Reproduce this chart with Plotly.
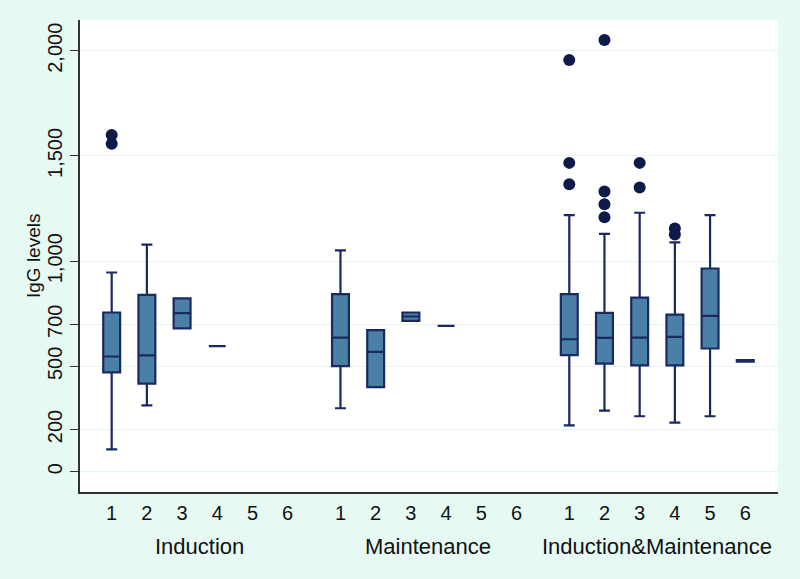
import plotly.graph_objects as go

# ---- data ----
groups = ["Induction", "Maintenance", "Induction&Maintenance"]
cat_labels = ["1", "2", "3", "4", "5", "6"]

# per group, per category (None = no data)
q1 = [
    [471, 418, 681, 596, None, None],
    [501, 401, 716, 692, None, None],
    [553, 513, 505, 505, 585, 522],
]
median = [
    [547, 552, 753, 596, None, None],
    [637, 569, 737, 692, None, None],
    [629, 635, 637, 640, 740, 526],
]
q3 = [
    [756, 840, 823, 596, None, None],
    [843, 672, 756, 692, None, None],
    [843, 754, 827, 746, 965, 530],
]
lower_whisker = [
    [106, 315, 681, 596, None, None],
    [301, 401, 716, 692, None, None],
    [220, 290, 263, 233, 263, 522],
]
upper_whisker = [
    [946, 1079, 823, 596, None, None],
    [1051, 672, 756, 692, None, None],
    [1219, 1130, 1230, 1089, 1219, 530],
]
outliers = [
    [[1599, 1558], [], [], [], [], []],
    [[], [], [], [], [], []],
    [[1956, 1467, 1365], [2051, 1331, 1270, 1209], [1467, 1350], [1155, 1127], [], []],
]

# ---- layout helpers ----
GROUP_STEP = 6.5
BOX_FILL = "#4A7FA6"
LINE = "#1A2A60"
DOT = "#0E1A4A"

fig = go.Figure()
tickvals, ticktext, group_centers = [], [], []
for g in range(len(groups)):
    pos_list = [g * GROUP_STEP + i for i in range(len(cat_labels))]
    group_centers.append(sum(pos_list) / len(pos_list))
    for i, pos in enumerate(pos_list):
        tickvals.append(pos)
        ticktext.append(cat_labels[i])
        if median[g][i] is None:
            continue
        fig.add_trace(go.Box(
            x=[pos],
            q1=[q1[g][i]], median=[median[g][i]], q3=[q3[g][i]],
            lowerfence=[lower_whisker[g][i]], upperfence=[upper_whisker[g][i]],
            width=0.48, whiskerwidth=0.65,
            fillcolor=BOX_FILL, line=dict(color=LINE, width=2.2),
            boxpoints=False, showlegend=False, hoverinfo="skip",
        ))
        if outliers[g][i]:
            fig.add_trace(go.Scatter(
                x=[pos] * len(outliers[g][i]), y=outliers[g][i],
                mode="markers",
                marker=dict(color=DOT, size=12, line=dict(width=0)),
                showlegend=False, hoverinfo="skip",
            ))

FONT = "Liberation Sans, Arial, sans-serif"

for g, name in enumerate(groups):
    fig.add_annotation(
        x=group_centers[g], y=0, xref="x", yref="paper",
        text=name, showarrow=False, yanchor="middle", yshift=-54,
        font=dict(family=FONT, size=22, color="#111111"),
    )

fig.add_annotation(
    x=0, y=0.5, xref="paper", yref="paper", text="IgG levels",
    textangle=-90, showarrow=False, xanchor="center", yanchor="middle",
    xshift=-47, font=dict(family=FONT, size=19, color="#111111"),
)

ytick_vals = [0, 200, 500, 700, 1000, 1500, 2000]
ytick_text = ["0", "200", "500", "700", "1,000", "1,500", "2,000"]

fig.update_layout(
    width=800, height=579,
    margin=dict(l=80, r=22, t=20, b=87),
    paper_bgcolor="#E6F9F3", plot_bgcolor="#FFFFFF",
    font=dict(family=FONT, color="#111111"),
    showlegend=False,
    boxmode="overlay",
)
fig.update_xaxes(
    range=[-0.9, 18.93], automargin=False,
    tickvals=tickvals, ticktext=ticktext,
    ticks="outside", ticklen=2, tickcolor="rgba(0,0,0,0)",
    tickfont=dict(family=FONT, size=20, color="#111111"),
    showgrid=False, zeroline=False,
    showline=True, linecolor="#333333", linewidth=1.5,
)
fig.update_yaxes(
    range=[-97, 2146], automargin=False,
    tickvals=ytick_vals, ticktext=ytick_text,
    tickangle=-90,
    ticks="outside", ticklen=8, tickcolor="#333333", tickwidth=1.2,
    tickfont=dict(family=FONT, size=20, color="#111111"),
    showgrid=True, gridcolor="#E6F7F1", gridwidth=1,
    zeroline=False,
    showline=True, linecolor="#333333", linewidth=1.5,
)

fig.write_html(
    "out.html",
    config={"displayModeBar": False},
    post_script="document.body.style.margin='0';document.body.style.background='#E6F9F3';",
)
